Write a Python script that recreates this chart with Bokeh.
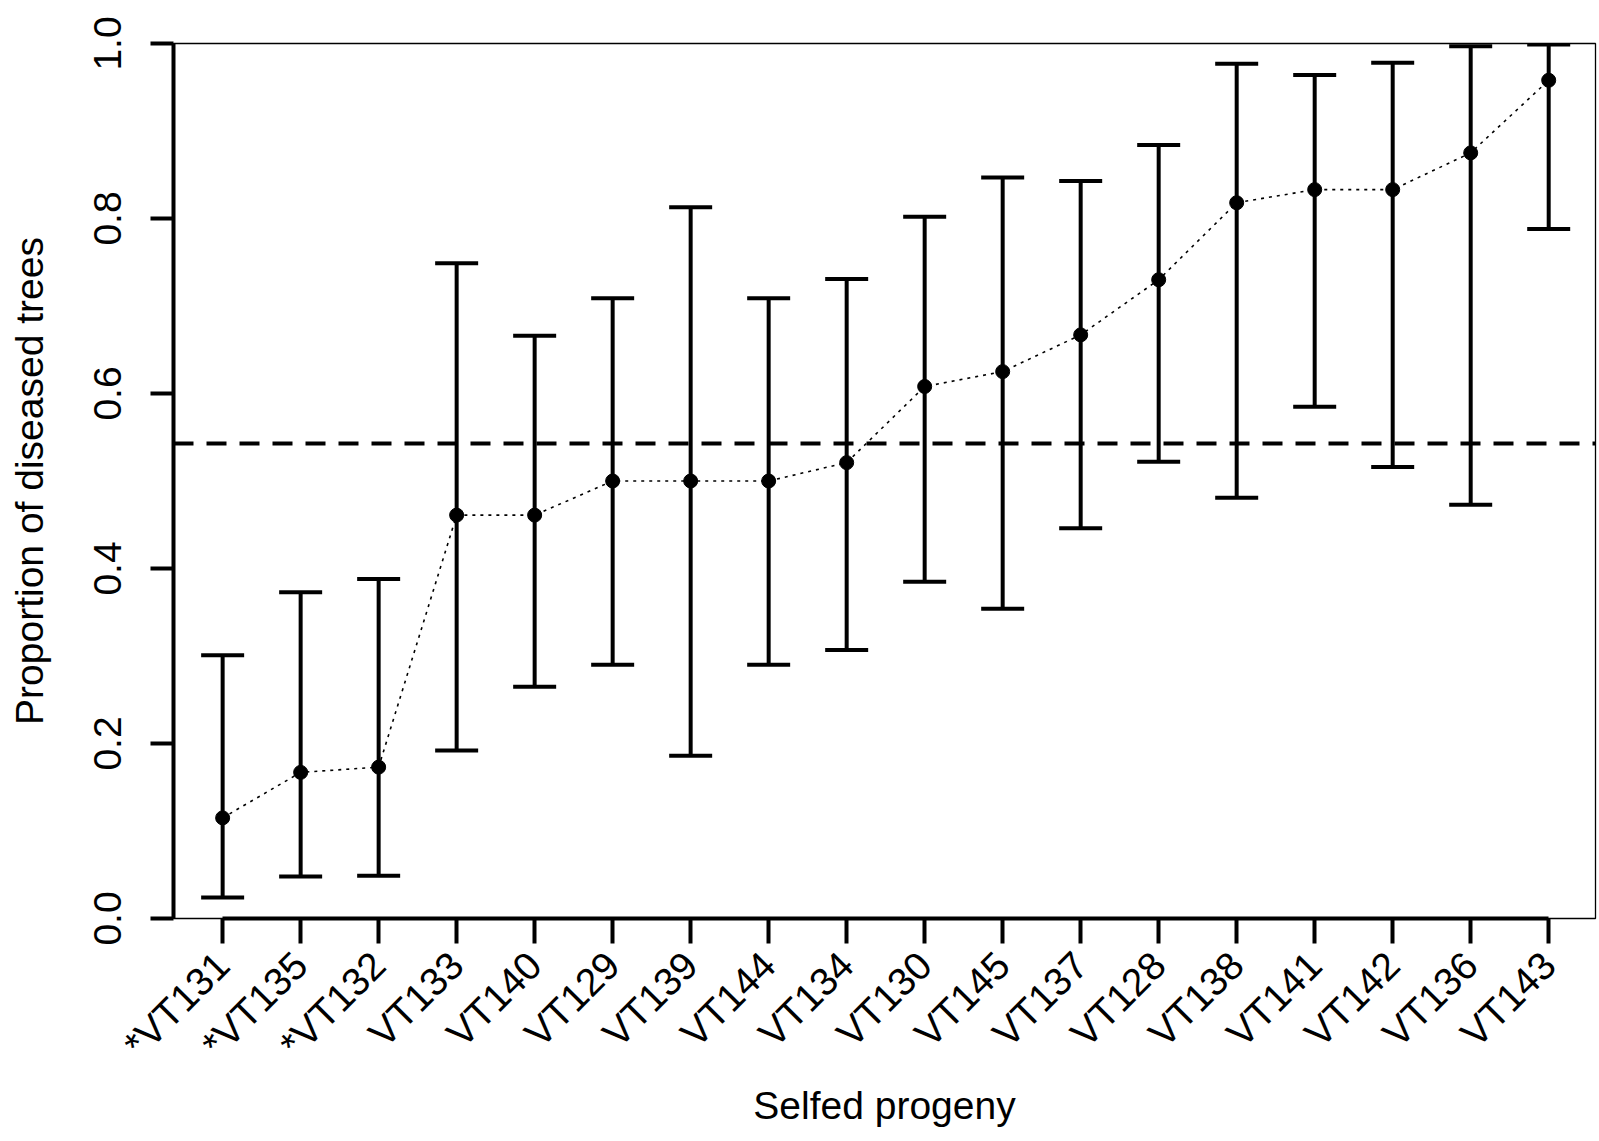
from bokeh.plotting import figure
from bokeh.models import (Range1d, FixedTicker, Whisker, TeeHead, ColumnDataSource,
                          Span, PrintfTickFormatter)
from bokeh.embed import file_html
from bokeh.resources import INLINE
import math

progeny = ["*VT131", "*VT135", "*VT132", "VT133", "VT140", "VT129", "VT139", "VT144",
           "VT134", "VT130", "VT145", "VT137", "VT128", "VT138", "VT141", "VT142",
           "VT136", "VT143"]
proportion = [0.115, 0.167, 0.173, 0.461, 0.461, 0.500, 0.500, 0.500, 0.521, 0.608,
              0.625, 0.667, 0.730, 0.818, 0.833, 0.833, 0.875, 0.958]
lower = [0.024, 0.048, 0.049, 0.192, 0.265, 0.290, 0.186, 0.290, 0.307, 0.385,
         0.354, 0.446, 0.522, 0.481, 0.585, 0.516, 0.473, 0.788]
upper = [0.301, 0.373, 0.388, 0.749, 0.666, 0.709, 0.813, 0.709, 0.731, 0.802,
         0.847, 0.843, 0.884, 0.977, 0.964, 0.978, 0.997, 0.999]
overall_mean = 0.543
y_ticks = [0.0, 0.2, 0.4, 0.6, 0.8, 1.0]

xs = list(range(1, len(progeny) + 1))
src = ColumnDataSource(dict(x=xs, p=proportion, lower=lower, upper=upper))

FONT = "Liberation Sans"
FS = "39px"

p = figure(width=1597, height=1137, output_backend="svg", toolbar_location=None,
           x_range=Range1d(0.37, 18.6), y_range=Range1d(0, 1),
           min_border_left=173, min_border_top=43, min_border_right=2,
           min_border_bottom=219)
p.grid.visible = False
p.outline_line_color = "black"
p.outline_line_width = 1.3
p.background_fill_color = "white"
p.border_fill_color = "white"

# axes
for ax in (p.xaxis, p.yaxis):
    ax.axis_line_width = 4
    ax.major_tick_line_width = 4
    ax.minor_tick_line_color = None
    ax.major_tick_in = 0
    ax.major_label_text_font = FONT
    ax.major_label_text_font_size = FS
    ax.major_label_text_color = "black"
    ax.axis_label_text_font = FONT
    ax.axis_label_text_font_size = FS
    ax.axis_label_text_font_style = "normal"
    ax.axis_label_text_color = "black"

p.xaxis.ticker = FixedTicker(ticks=xs)
p.xaxis.major_label_overrides = {i: lab for i, lab in zip(xs, progeny)}
p.xaxis.major_label_orientation = math.pi / 4
p.xaxis.bounds = (1, len(progeny))
p.xaxis.major_tick_out = 25
p.xaxis.major_label_standoff = 15
p.xaxis.axis_label = "Selfed progeny"
p.xaxis.axis_label_standoff = 0

p.yaxis.ticker = FixedTicker(ticks=y_ticks)
p.yaxis.formatter = PrintfTickFormatter(format="%.1f")
p.yaxis.major_label_orientation = "vertical"
p.yaxis.bounds = (0, 1)
p.yaxis.major_tick_out = 23
p.yaxis.major_label_standoff = 30
p.yaxis.axis_label = "Proportion of diseased trees"
p.yaxis.axis_label_standoff = 40

# overall mean line
p.add_layout(Span(location=overall_mean, dimension="width", line_color="black",
                  line_width=4, line_dash="20 13"))

# error bars
wh = Whisker(source=src, base="x", upper="upper", lower="lower", dimension="height",
             line_width=4, line_color="black",
             upper_head=TeeHead(size=43, line_width=4, line_color="black"),
             lower_head=TeeHead(size=43, line_width=4, line_color="black"))
p.add_layout(wh)

p.line("x", "p", source=src, line_color="black", line_width=1.6, line_dash="3 5")
p.scatter("x", "p", source=src, size=14, color="black")

open("out.html", "w").write(file_html(p, INLINE))
